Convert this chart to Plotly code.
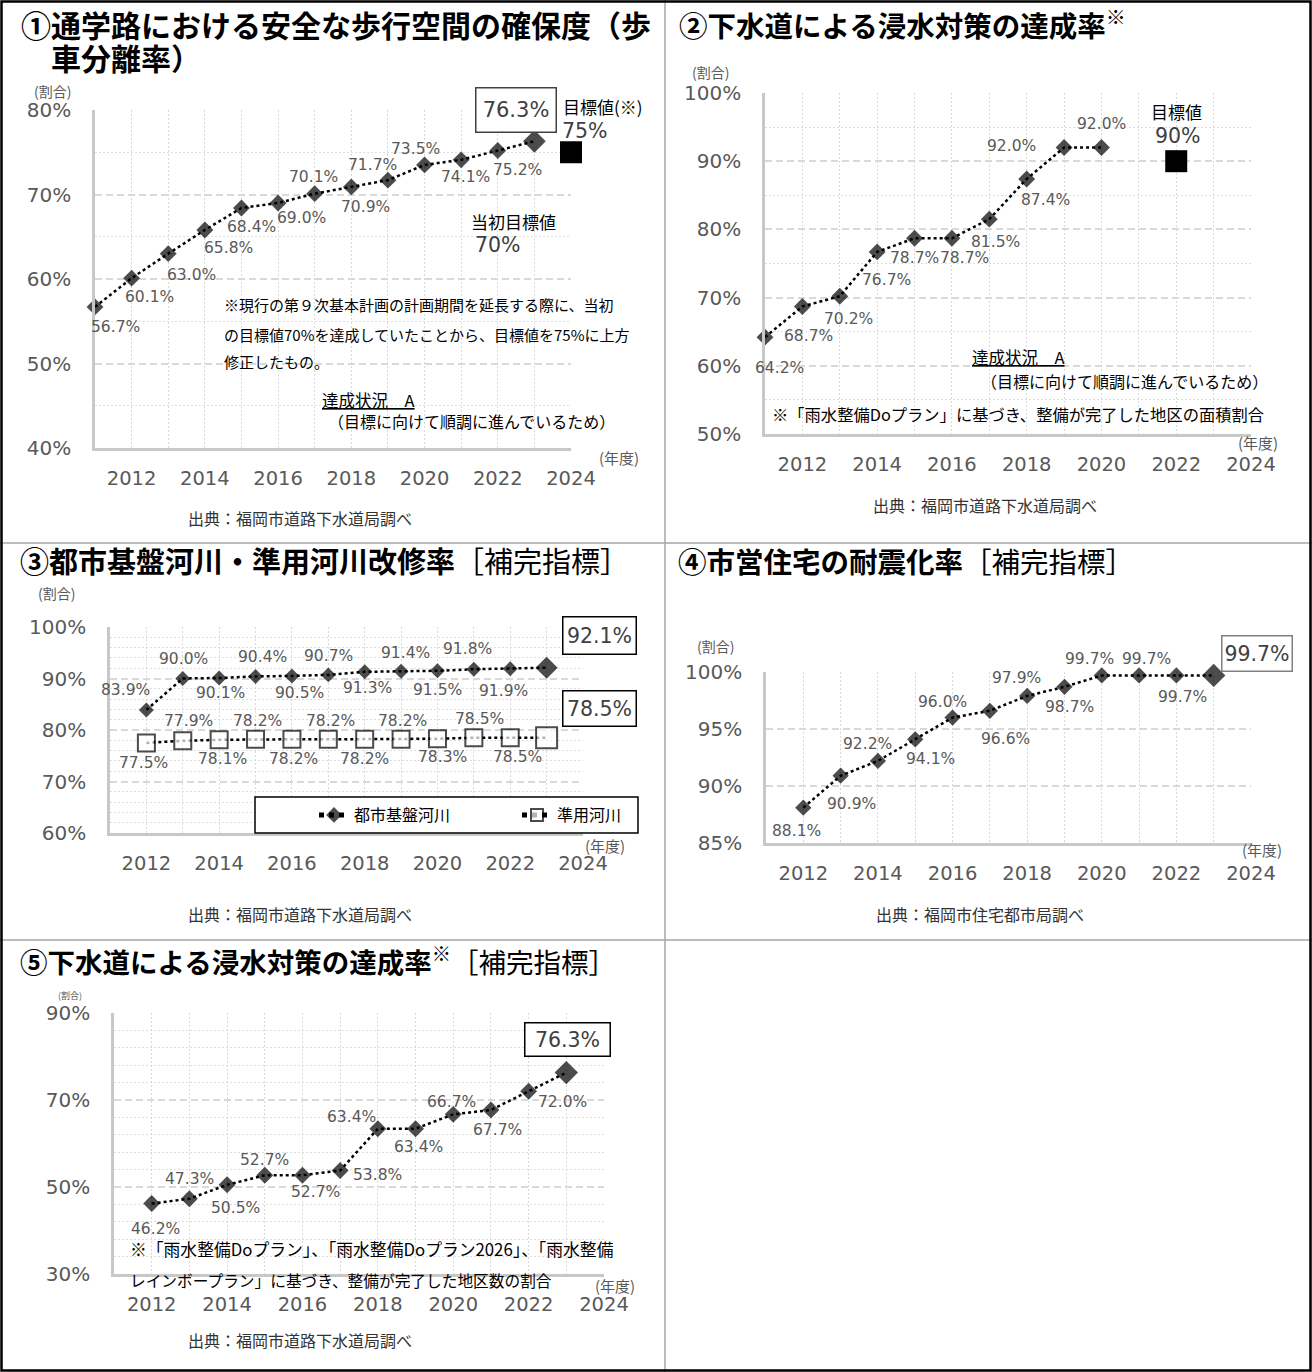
import plotly.graph_objects as go

W, H = 1312, 1372
FONT = "Noto Sans CJK JP"
NUM = "DejaVu Sans"
GRAY = "#595959"
DARK = "#404040"

# ---------------- data ----------------
x_ticks = [2012, 2014, 2016, 2018, 2020, 2022, 2024]

years_1 = [2011, 2012, 2013, 2014, 2015, 2016, 2017, 2018, 2019, 2020, 2021, 2022, 2023]
rate_1 = [56.7, 60.1, 63.0, 65.8, 68.4, 69.0, 70.1, 70.9, 71.7, 73.5, 74.1, 75.2, 76.3]
target_1_year, target_1 = 2024, 75
initial_target_1_year, initial_target_1 = 2022, 70

years_2 = [2011, 2012, 2013, 2014, 2015, 2016, 2017, 2018, 2019, 2020]
rate_2 = [64.2, 68.7, 70.2, 76.7, 78.7, 78.7, 81.5, 87.4, 92.0, 92.0]
target_2_year, target_2 = 2022, 90

years_3 = [2012, 2013, 2014, 2015, 2016, 2017, 2018, 2019, 2020, 2021, 2022, 2023]
urban_rivers_3 = [83.9, 90.0, 90.1, 90.4, 90.5, 90.7, 91.3, 91.4, 91.5, 91.8, 91.9, 92.1]
semi_rivers_3 = [77.5, 77.9, 78.1, 78.2, 78.2, 78.2, 78.2, 78.2, 78.3, 78.5, 78.5, 78.5]

years_4 = [2012, 2013, 2014, 2015, 2016, 2017, 2018, 2019, 2020, 2021, 2022, 2023]
rate_4 = [88.1, 90.9, 92.2, 94.1, 96.0, 96.6, 97.9, 98.7, 99.7, 99.7, 99.7, 99.7]

years_5 = [2012, 2013, 2014, 2015, 2016, 2017, 2018, 2019, 2020, 2021, 2022, 2023]
rate_5 = [46.2, 47.3, 50.5, 52.7, 52.7, 53.8, 63.4, 63.4, 66.7, 67.7, 72.0, 76.3]

# ---------------- label offsets (px: right, down) ----------------
off_1 = [(20, 20), (18, 19), (23, 21), (24, 18), (10, 19), (23, 15), (-1, -17), (14, 20),
         (-15, -15), (-9, -16), (4, 17), (20, 19), (-18, -31)]
off_2 = [(14, 31), (6, 30), (9, 23), (9, 28), (0, 20), (13, 20), (6, 23), (19, 21), (-53, -2), (0, -24)]
off_3a = [(-21, -20), (1, -20), (1, 15), (7, -19), (8, 17), (0, -19), (3, 16), (4, -18), (0, 19),
          (-6, -20), (-7, 22), (53, -32)]
off_3b = [(-3, 20), (6, -20), (3, 19), (2, -18), (2, 20), (2, -18), (0, 20), (1, -18), (5, 18),
          (6, -19), (7, 19), (53, -29)]
off_4 = [(-7, 23), (11, 28), (-10, -17), (15, 20), (-10, -16), (16, 28), (-11, -18), (5, 20),
         (-12, -16), (7, -16), (6, 22), (43, -22)]
off_5 = [(4, 25), (0, -20), (8, 23), (0, -15), (13, 17), (37, 5), (-26, -12), (3, 18), (-2, -12),
         (7, 20), (34, 11), (1, -33)]

# ---------------- panel geometry (pixels) ----------------
panels = {
    1: dict(x=(95, 571), y=(448, 110), yrange=(40, 80), dtick=10, minor=5),
    2: dict(x=(765, 1251), y=(434, 93), yrange=(50, 100), dtick=10, minor=5),
    3: dict(x=(110, 583), y=(833, 627), yrange=(60, 100), dtick=10, minor=2),
    4: dict(x=(766, 1251), y=(843, 672), yrange=(85, 100), dtick=5, minor=None),
    5: dict(x=(114, 604), y=(1274, 1013), yrange=(30, 90), dtick=20, minor=4),
}


def refs(i):
    return ("x" if i == 1 else f"x{i}", "y" if i == 1 else f"y{i}")


fig = go.Figure()
layout = {}
for i, p in panels.items():
    xr, yr = refs(i)
    xs = "xaxis" if i == 1 else f"xaxis{i}"
    ys = "yaxis" if i == 1 else f"yaxis{i}"
    layout[xs] = dict(
        domain=[p["x"][0] / W, p["x"][1] / W], range=[2011, 2024], anchor=yr, automargin=False,
        tickvals=x_ticks, showgrid=True, gridcolor="#d9d9d9", griddash="2px,2px", gridwidth=1,
        minor=dict(dtick=1, tick0=2011, showgrid=True, gridcolor="#d9d9d9", griddash="2px,2px", gridwidth=1),
        showline=True, linecolor="#c8c8c8", linewidth=2.5, zeroline=False,
        tickfont=dict(size=19.5, color=GRAY, family=NUM), ticklabelstandoff=11, fixedrange=True,
    )
    ya = dict(
        domain=[1 - p["y"][0] / H, 1 - p["y"][1] / H], range=list(p["yrange"]), anchor=xr,
        automargin=False, dtick=p["dtick"], tick0=p["yrange"][0], ticksuffix="%",
        showgrid=True, gridcolor="#d9d9d9", griddash="7px,4px", gridwidth=1.5,
        showline=True, linecolor="#c8c8c8", linewidth=2.5, zeroline=False,
        tickfont=dict(size=20, color=GRAY, family=NUM), ticklabelstandoff=17, fixedrange=True,
    )
    if p["minor"]:
        ya["minor"] = dict(dtick=p["minor"], tick0=p["yrange"][0], showgrid=True,
                           gridcolor="#dedede", griddash="2px,2px", gridwidth=1)
    layout[ys] = ya

LINE = dict(color="black", width=2.5, dash="dot")


def series(i, xs_, ys_, sizes, symbol="diamond", name=None, legend=False, open_=False):
    xr, yr = refs(i)
    marker = dict(symbol=symbol, size=sizes, color="white" if open_ else "black",
                  line=dict(color="black", width=2 if open_ else 0))
    fig.add_trace(go.Scatter(x=xs_, y=ys_, xaxis=xr, yaxis=yr, mode="lines+markers",
                             line=LINE, marker=marker, cliponaxis=False,
                             name=name, showlegend=legend, hoverinfo="skip"))


def point(i, xv, yv, symbol, size, open_=False):
    xr, yr = refs(i)
    fig.add_trace(go.Scatter(x=[xv], y=[yv], xaxis=xr, yaxis=yr, mode="markers",
                             marker=dict(symbol=symbol, size=size, color="white" if open_ else "black",
                                         line=dict(color="black", width=1.5 if open_ else 0)),
                             cliponaxis=False, showlegend=False, hoverinfo="skip"))


series(1, years_1, rate_1, [13] * 12 + [17.5])
point(1, target_1_year, target_1, "square", 22)
point(1, initial_target_1_year, initial_target_1, "square-open", 20, open_=True)

series(2, years_2, rate_2, [13] * 10)
point(2, target_2_year, target_2, "square", 22)

series(3, years_3, urban_rivers_3, [11.5] * 11 + [17], name="都市基盤河川", legend=True)
series(3, years_3, semi_rivers_3, [17] * 11 + [21], symbol="square", name="準用河川", legend=True, open_=True)

series(4, years_4, rate_4, [12.5] * 11 + [18])
series(5, years_5, rate_5, [13] * 11 + [18])

annotations = []


def pt(text, x, y, size, color="black", xanchor="center", family=FONT, **kw):
    annotations.append(dict(text=text, x=x / W, y=1 - y / H, xref="paper", yref="paper",
                            xanchor=xanchor, yanchor="middle", showarrow=False,
                            font=dict(size=size, color=color, family=family), **kw))


def labels(i, xs_, ys_, offs, box=None):
    xr, yr = refs(i)
    n = len(xs_)
    for k, (xv, yv, (dx, dy)) in enumerate(zip(xs_, ys_, offs)):
        a = dict(text=f"{yv:.1f}%", x=xv, y=yv, xref=xr, yref=yr, showarrow=False,
                 xshift=dx, yshift=-dy, xanchor="center", yanchor="middle",
                 font=dict(size=15.5, color=GRAY, family=NUM))
        if box and k == n - 1:
            bw, bh, bc, fs = box
            a.update(width=bw, height=bh, bordercolor=bc, borderwidth=1.5, borderpad=0,
                     bgcolor="white", font=dict(size=fs, color=DARK, family=NUM))
        annotations.append(a)


def near(i, xv, yv, text, dx, dy, size, color="black", family=FONT):
    xr, yr = refs(i)
    annotations.append(dict(text=text, x=xv, y=yv, xref=xr, yref=yr, showarrow=False,
                            xshift=dx, yshift=-dy, xanchor="center", yanchor="middle",
                            font=dict(size=size, color=color, family=family)))


labels(1, years_1, rate_1, off_1, box=(79, 43, DARK, 21))
labels(2, years_2, rate_2, off_2)
labels(3, years_3, urban_rivers_3, off_3a, box=(72, 36, "black", 20.5))
labels(3, years_3, semi_rivers_3, off_3b, box=(72, 34, "black", 20.5))
labels(4, years_4, rate_4, off_4, box=(69, 34, "#808080", 20.5))
labels(5, years_5, rate_5, off_5, box=(84, 32, "black", 20.5))

# target annotations
near(1, target_1_year, target_1, "目標値(※)", 32, -46, 17)
near(1, target_1_year, target_1, "75%", 14, -21, 20.5, DARK, NUM)
near(1, initial_target_1_year, initial_target_1, "当初目標値", 16, 27, 17)
near(1, initial_target_1_year, initial_target_1, "70%", 0, 50, 20.5, DARK, NUM)
near(2, target_2_year, target_2, "目標値", 0, -50, 17)
near(2, target_2_year, target_2, "90%", 2, -25, 20.5, DARK, NUM)

# titles
pt("<b>①通学路における安全な歩行空間の確保度（歩</b>", 19, 24, 30, xanchor="left")
pt("<b>車分離率）</b>", 49, 57, 30, xanchor="left")
pt("<b>②下水道による浸水対策の達成率</b><sup><b>※</b></sup>", 677, 23, 28.5, xanchor="left")
pt("<b>③都市基盤河川・準用河川改修率</b>［補完指標］", 18, 560, 29, xanchor="left")
pt("<b>④市営住宅の耐震化率</b>［補完指標］", 676, 560, 28.5, xanchor="left")
pt("<b>⑤下水道による浸水対策の達成率</b><sup><b>※</b></sup>［補完指標］", 18, 960, 27.5, xanchor="left")

# axis captions
for (x, y, s) in [(52, 91, 14), (710, 72, 14), (57, 593, 14), (715, 646, 14), (70, 995, 9)]:
    pt("(割合)", x, y, s, GRAY)
for (x, y) in [(619, 458), (1258, 442), (605, 845), (1262, 849), (615, 1285)]:
    pt("(年度)", x, y, 15, GRAY)

# sources
pt("出典：福岡市道路下水道局調べ", 300, 518, 16, "#333333")
pt("出典：福岡市道路下水道局調べ", 985, 505, 16, "#333333")
pt("出典：福岡市道路下水道局調べ", 300, 914, 16, "#333333")
pt("出典：福岡市住宅都市局調べ", 980, 914, 16, "#333333")
pt("出典：福岡市道路下水道局調べ", 300, 1340, 16, "#333333")

# notes
pt("※現行の第９次基本計画の計画期間を延長する際に、当初", 222, 305, 15, xanchor="left")
pt("の目標値70%を達成していたことから、目標値を75%に上方", 222, 334, 15, xanchor="left")
pt("修正したもの。", 222, 361, 15, xanchor="left")
pt("<u>達成状況　A</u>", 320, 400, 16.5, xanchor="left")
pt("（目標に向けて順調に進んでいるため）", 326, 421, 16, xanchor="left")

pt("<u>達成状況　A</u>", 970, 357, 16.5, xanchor="left")
pt("（目標に向けて順調に進んでいるため）", 979, 381, 16, xanchor="left")
pt("※「雨水整備Doプラン」に基づき、整備が完了した地区の面積割合", 770, 414, 16.3, xanchor="left")

pt("※「雨水整備Doプラン」、「雨水整備Doプラン2026」、「雨水整備", 128, 1249, 16.8, xanchor="left")
pt("レインボープラン」に基づき、整備が完了した地区数の割合", 128, 1280, 15.7, xanchor="left")


# table borders and legend frame
def hline(y, color, w):
    return dict(type="line", xref="paper", yref="paper", x0=0, x1=1, y0=1 - y / H, y1=1 - y / H,
                line=dict(color=color, width=w))


def vline(x, color, w):
    return dict(type="line", xref="paper", yref="paper", y0=0, y1=1, x0=x / W, x1=x / W,
                line=dict(color=color, width=w))


def rect_px(x0, y0, x1, y1, color, w):
    return dict(type="rect", xref="paper", yref="paper", x0=x0 / W, x1=x1 / W,
                y0=1 - y1 / H, y1=1 - y0 / H, line=dict(color=color, width=w),
                fillcolor="white", layer="above")


shapes = [
    hline(543, "#a6a6a6", 1.5), hline(940, "#a6a6a6", 1.5), vline(665, "#a6a6a6", 1.5),
    dict(type="rect", xref="paper", yref="paper", x0=1.5 / W, x1=1 - 1.5 / W, y0=1.5 / H, y1=1 - 1.5 / H,
         line=dict(color="black", width=2.5)),
    rect_px(255, 797, 638, 833, "black", 1.5),
]

fig.update_layout(
    width=W, height=H, margin=dict(l=0, r=0, t=0, b=0, autoexpand=False),
    paper_bgcolor="white", plot_bgcolor="white",
    font=dict(family=FONT, color=GRAY),
    annotations=annotations, shapes=shapes,
    legend=dict(x=314 / W, y=1 - 815 / H, xanchor="left", yanchor="middle", orientation="h",
                borderwidth=0, bgcolor="rgba(0,0,0,0)",
                font=dict(size=16, color="black", family=FONT),
                entrywidth=158, entrywidthmode="pixels", itemsizing="constant"),
    **layout,
)

fig.write_html(
    "out.html", config={"displayModeBar": False},
    post_script=(
        "document.documentElement.style.margin='0';document.body.style.margin='0';"
        "document.documentElement.style.overflow='hidden';document.body.style.overflow='hidden';"
        "var d=document.getElementById('{plot_id}');d.style.position='absolute';"
        "d.style.left='0px';d.style.top='0px';"
    ),
)
